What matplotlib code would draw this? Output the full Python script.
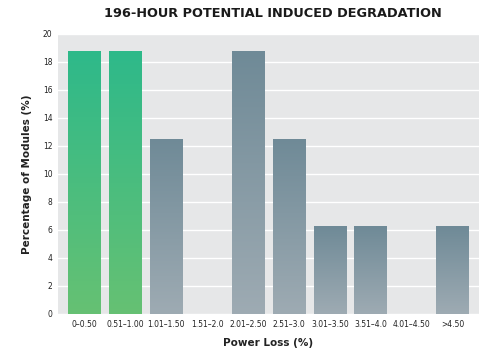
import numpy as np
import matplotlib
matplotlib.use('Agg')
import matplotlib.pyplot as plt
from matplotlib.colors import LinearSegmentedColormap

categories = ['0–0.50', '0.51–1.00', '1.01–1.50', '1.51–2.0', '2.01–2.50',
              '2.51–3.0', '3.01–3.50', '3.51–4.0', '4.01–4.50', '>4.50']
percent = [18.75, 18.75, 12.5, 0, 18.75, 12.5, 6.25, 6.25, 0, 6.25]
highlight = [True, True, False, False, False, False, False, False, False, False]

green = LinearSegmentedColormap.from_list('g', ['#66c173', '#2eb98a'])
grey = LinearSegmentedColormap.from_list('s', ['#9eabb3', '#6f8a97'])

fig = plt.figure(figsize=(4.86, 3.49), dpi=100)
ax = fig.add_axes([0.1193, 0.1003, 0.8663, 0.8023])
ax.set_facecolor('#e6e7e8')

x = np.arange(len(categories))
bars = ax.bar(x, percent, width=0.8, color='none', edgecolor='none', zorder=2)

# gradient fill clipped to each bar
grad = np.linspace(0, 1, 256).reshape(-1, 1)
for b, hl in zip(bars, highlight):
    if b.get_height() <= 0:
        continue
    x0, y0 = b.get_x(), b.get_y()
    im = ax.imshow(grad, cmap=green if hl else grey, aspect='auto', origin='lower',
                   extent=[x0, x0 + b.get_width(), y0, y0 + b.get_height()], zorder=2)
    im.set_clip_path(b)
ax.set_xlim(-0.64, 9.64)
ax.set_ylim(0, 20)

ax.set_yticks(range(0, 21, 2))
ax.yaxis.grid(True, color='white', linewidth=1.0)
ax.set_axisbelow(True)
ax.set_xticks(x)
ax.set_xticklabels(categories)
ax.tick_params(axis='both', length=0, labelsize=5.5, colors='#222222')
ax.tick_params(axis='y', pad=4)
ax.tick_params(axis='x', pad=4)
for s in ax.spines.values():
    s.set_visible(False)

ax.set_ylabel('Percentage of Modules (%)', fontsize=7.5, fontweight='bold', color='#222222', labelpad=8)
ax.set_xlabel('Power Loss (%)', fontsize=7.5, fontweight='bold', color='#222222', labelpad=7)
fig.text(0.562, 0.962, '196-HOUR POTENTIAL INDUCED DEGRADATION', ha='center', va='center',
         fontsize=9.3, fontweight='bold', color='#1a1a1a')

fig.savefig('out.png', dpi=100)
